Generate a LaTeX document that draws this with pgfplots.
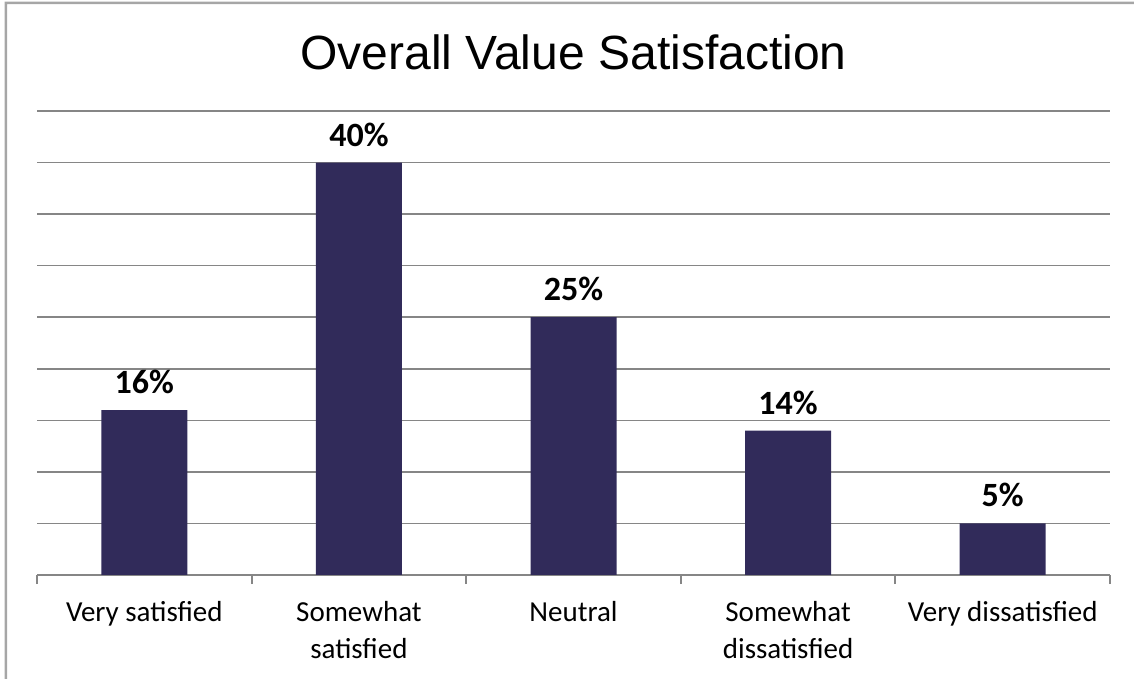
\documentclass[border=0pt]{standalone}
\usepackage{pgfplots}
\pgfplotsset{compat=1.18}
\usepackage{fontspec}
\setmainfont{Carlito}
\newfontfamily\titlefont{Liberation Sans}
\definecolor{barcol}{RGB}{49,43,90}
\definecolor{gridcol}{RGB}{134,134,134}
\definecolor{framecol}{RGB}{166,166,166}

\begin{document}
\begin{tikzpicture}
\begin{axis}[
  scale only axis,
  width=1073pt, height=464pt,
  xmin=-0.5, xmax=4.5, ymin=0, ymax=45,
  ybar, bar width=86pt,
  axis x line*=bottom, axis y line*=left,
  y axis line style={draw=none},
  x axis line style={draw=gridcol, line width=2pt, -},
  ytick={5,10,...,45}, yticklabels={},
  ytick style={draw=none},
  ymajorgrids,
  grid style={gridcol, line width=1.6pt},
  xtick={0,1,2,3,4},
  xticklabels={Very satisfied, Somewhat\\satisfied, Neutral, Somewhat\\dissatisfied, Very dissatisfied},
  xticklabel style={align=center, font=\fontsize{29}{37}\selectfont, yshift=-19pt},
  major x tick style={draw=none},
  minor xtick={-0.5,0.5,1.5,2.5,3.5,4.5},
  minor tick length=9pt,
  tick align=outside,
  minor x tick style={gridcol, line width=2pt},
  title={Overall Value Satisfaction},
  title style={at={(0.5,1)}, anchor=base, yshift=35pt, font=\titlefont\fontsize{48}{58}\selectfont},
  nodes near coords={\pgfmathprintnumber[assume math mode=true]{\pgfplotspointmeta}\%},
  every node near coord/.append style={font=\bfseries\fontsize{34}{40}\selectfont, inner sep=0pt, yshift=16pt},
]
\addplot[fill=barcol, draw=none] coordinates {
  (0, 16)
  (1, 40)
  (2, 25)
  (3, 14)
  (4, 5)
};
\coordinate (ll) at (rel axis cs:0,0);
\coordinate (ur) at (rel axis cs:1,1);
\end{axis}
\draw[framecol, line width=2.5pt] ([shift={(-31pt,-104pt)}]ll) -- ([shift={(-31pt,572pt)}]ll) -- ([shift={(24pt,108pt)}]ur);
\pgfresetboundingbox
\path ([shift={(-37pt,-104pt)}]ll) rectangle ([shift={(24pt,111pt)}]ur);
\end{tikzpicture}
\end{document}
